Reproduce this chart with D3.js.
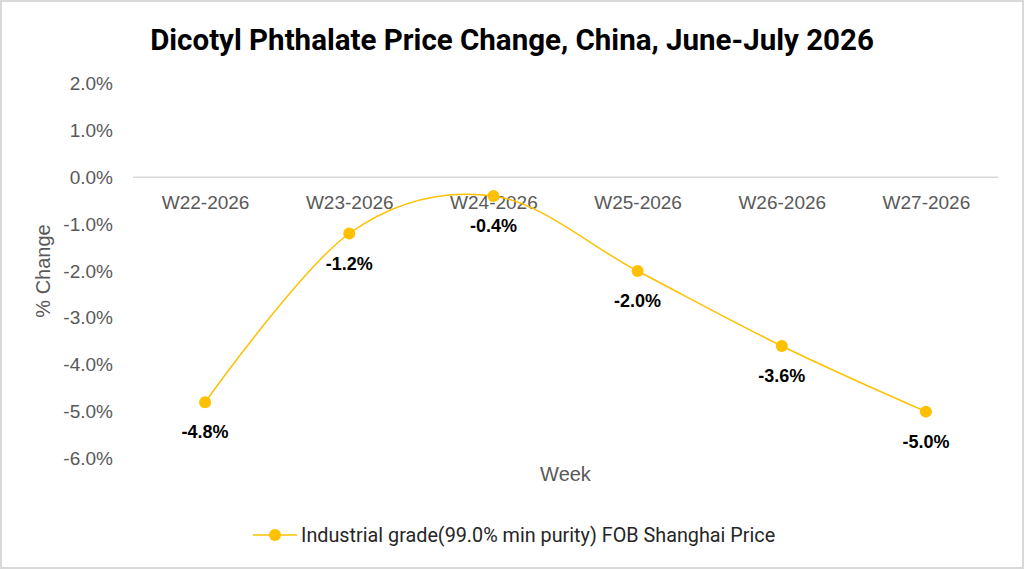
<!DOCTYPE html>
<meta charset="utf-8">
<script src="https://d3js.org/d3.v7.min.js"></script>
<style>
  body { margin: 0; background: #fff; }
</style>
<div id="my_dataviz"></div>
<script>
  // data
  var weeks = ["W22-2026", "W23-2026", "W24-2026", "W25-2026", "W26-2026", "W27-2026"];
  var changes = [-4.8, -1.2, -0.4, -2.0, -3.6, -5.0];
  var yTicks = [2, 1, 0, -1, -2, -3, -4, -5, -6];
  var seriesName = "Industrial grade(99.0% min purity) FOB Shanghai Price";
  var title = "Dicotyl Phthalate Price Change, China, June-July 2026";

  var W = 1024, H = 569;
  var margin = { top: 83.5, right: 26, bottom: 110.5, left: 133 },
    width = W - margin.left - margin.right,
    height = H - margin.top - margin.bottom;

  var color = "#FFC000";
  var grey = "#595959";
  var pct = function(d) { return d3.format(".1f")(d).replace("\u2212", "-") + "%"; };

  var root = d3.select("#my_dataviz")
    .append("svg")
    .attr("width", W)
    .attr("height", H);

  // outer border
  root.append("rect")
    .attr("x", 1).attr("y", 1)
    .attr("width", W - 2).attr("height", H - 2)
    .attr("fill", "#fff")
    .attr("stroke", "#d9d9d9")
    .attr("stroke-width", 2);

  // title
  root.append("text")
    .attr("x", 512)
    .attr("y", 50)
    .attr("text-anchor", "middle")
    .style("font-family", "Roboto, sans-serif")
    .style("font-weight", "bold")
    .style("font-size", "29.5px")
    .attr("fill", "#000")
    .text(title);

  var svg = root.append("g")
    .attr("transform", "translate(" + margin.left + "," + margin.top + ")");

  var x = d3.scalePoint()
    .domain(weeks)
    .range([0, width])
    .padding(0.5);

  var y = d3.scaleLinear()
    .domain([-6, 2])
    .range([height, 0]);

  // y axis labels (no line)
  var yAxis = svg.append("g")
    .call(d3.axisLeft(y).tickValues(yTicks).tickSize(0).tickPadding(20)
      .tickFormat(pct));
  yAxis.select(".domain").remove();
  yAxis.selectAll("text")
    .style("font-family", "'Liberation Sans', Arial, sans-serif")
    .style("font-size", "19px")
    .attr("fill", grey);

  // zero line
  svg.append("line")
    .attr("x1", 0).attr("x2", width)
    .attr("y1", y(0)).attr("y2", y(0))
    .attr("stroke", "#d9d9d9")
    .attr("stroke-width", 1.5);

  // x axis labels sit just under the zero line
  var xAxis = svg.append("g")
    .attr("transform", "translate(0," + y(0) + ")")
    .call(d3.axisBottom(x).tickSize(0).tickPadding(18));
  xAxis.select(".domain").remove();
  xAxis.selectAll("text")
    .style("font-family", "'Liberation Sans', Arial, sans-serif")
    .style("font-size", "19px")
    .attr("fill", grey);

  // axis titles
  root.append("text")
    .attr("transform", "translate(50," + (margin.top + y(-2)) + ") rotate(-90)")
    .attr("text-anchor", "middle")
    .style("font-family", "'Liberation Sans', Arial, sans-serif")
    .style("font-size", "20px")
    .attr("fill", grey)
    .text("% Change");

  root.append("text")
    .attr("x", margin.left + width / 2)
    .attr("y", 481)
    .attr("text-anchor", "middle")
    .style("font-family", "'Liberation Sans', Arial, sans-serif")
    .style("font-size", "20px")
    .attr("fill", grey)
    .text("Week");

  var data = weeks.map(function(w, i) { return { week: w, value: changes[i] }; });

  // smoothed line
  svg.append("path")
    .datum(data)
    .attr("fill", "none")
    .attr("stroke", color)
    .attr("stroke-width", 1.5)
    .attr("d", d3.line()
      .curve(d3.curveCardinal.tension(0))
      .x(function(d) { return x(d.week); })
      .y(function(d) { return y(d.value); }));

  svg.selectAll(".dot")
    .data(data)
    .enter().append("circle")
    .attr("cx", function(d) { return x(d.week); })
    .attr("cy", function(d) { return y(d.value); })
    .attr("r", 6)
    .attr("fill", color);

  svg.selectAll(".lbl")
    .data(data)
    .enter().append("text")
    .attr("x", function(d) { return x(d.week); })
    .attr("y", function(d) { return y(d.value) + 36; })
    .attr("text-anchor", "middle")
    .style("font-family", "'Liberation Sans', Arial, sans-serif")
    .style("font-weight", "bold")
    .style("font-size", "18px")
    .attr("fill", "#000")
    .text(function(d) { return pct(d.value); });

  // legend
  var lg = root.append("g").attr("transform", "translate(253,535)");
  lg.append("line")
    .attr("x1", 0).attr("x2", 44)
    .attr("stroke", color).attr("stroke-width", 1.5);
  lg.append("circle")
    .attr("cx", 22).attr("r", 6).attr("fill", color);
  lg.append("text")
    .attr("x", 48)
    .attr("y", 7)
    .style("font-family", "Roboto, sans-serif")
    .style("font-size", "19.8px")
    .attr("fill", "#262626")
    .text(seriesName);
</script>
